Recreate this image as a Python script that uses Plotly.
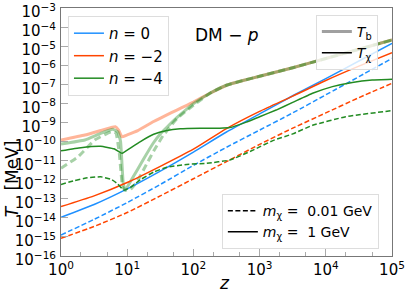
import plotly.graph_objects as go

# ---- data (log10 z, log10 T[MeV]) ----
lz_main = [0, 0.5, 1.0, 1.5, 2.0, 2.5, 3.0, 3.5, 4.0, 4.5, 5.0]

blue_solid = [-13.97, -13.3, -12.48, -11.55, -10.55, -9.5, -8.55, -7.6, -6.7, -5.78, -4.85]
orange_solid = [-13.41, -12.85, -12.15, -11.3, -10.4, -9.32, -8.42, -7.62, -6.8, -6.05, -5.34]
blue_dashed = [-14.9, -14.08, -13.2, -12.25, -11.25, -10.3, -9.4, -8.5, -7.55, -6.6, -5.64]
orange_dashed = [-15.07, -14.45, -13.72, -12.85, -11.95, -11.05, -10.15, -9.3, -8.5, -7.7, -6.95]

lz_green_solid = [0, 0.3, 0.6, 0.8, 0.92, 1.0, 1.2, 1.4, 1.6, 1.8, 2.1, 2.4, 2.55, 2.8, 3.0, 3.25,
                  3.5, 3.8, 4.1, 4.4, 4.7, 5.0]
green_solid = [-10.48, -10.32, -10.25, -10.38, -10.62, -10.45, -10.0, -9.62, -9.42, -9.33, -9.3, -9.3,
               -9.27, -8.98, -8.7, -8.35, -7.95, -7.47, -7.12, -6.9, -6.78, -6.74]

lz_green_dashed = [0, 0.2, 0.4, 0.6, 0.75, 0.85, 0.95, 1.05, 1.2, 1.4, 1.6, 1.9, 2.2, 2.55, 2.9, 3.2,
                   3.5, 3.8, 4.3, 5.0]
green_dashed = [-12.25, -12.05, -11.9, -11.85, -11.97, -12.2, -12.55, -12.4, -12.0, -11.6, -11.35,
                -11.2, -11.14, -10.97, -10.45, -9.95, -9.6, -9.15, -8.7, -8.38]

# baryon temperatures
lz_tb_common = [2.25, 2.5, 2.75, 3.0, 3.5, 4.0, 4.5, 5.0]
tb_common = [-7.47, -7.05, -6.8, -6.58, -6.13, -5.65, -5.16, -4.68]

lz_tb_n2 = [0, 0.36, 0.6, 0.75, 0.82, 0.87, 0.92, 1.0, 1.16, 1.4, 1.57, 1.75, 1.9, 2.0]
tb_n2 = [-9.92, -9.66, -9.42, -9.27, -9.22, -9.4, -9.75, -9.65, -9.43, -8.95, -8.65, -8.35, -8.1, -7.93]

lz_tb_n4_heavy = [0, 0.36, 0.6, 0.785, 0.86, 0.9, 0.94, 0.97, 1.05, 1.15, 1.25, 1.4, 1.5, 1.6, 1.75,
                  1.9, 2.0]
tb_n4_heavy = [-10.13, -9.92, -9.57, -9.36, -9.5, -10.0, -12.2, -12.55, -12.1, -11.5, -10.9, -10.05,
               -9.6, -9.25, -8.75, -8.3, -8.02]

lz_tb_n4_light = [0, 0.26, 0.51, 0.76, 0.83, 0.88, 0.93, 0.97, 1.05, 1.15, 1.29, 1.4, 1.54, 1.75, 2.0]
tb_n4_light = [-11.4, -10.79, -9.92, -9.48, -9.55, -10.6, -12.37, -12.55, -12.5, -12.1, -11.2, -10.5,
               -9.7, -8.8, -8.1]

x_tick_exp = [0, 1, 2, 3, 4, 5]
y_tick_exp = [-16, -15, -14, -13, -12, -11, -10, -9, -8, -7, -6, -5, -4, -3]

BLUE = "#1E90FF"
ORANGE = "#FF4500"
GREEN = "#228B22"
LIGHT_ORANGE = "rgba(255,69,0,0.4)"
LIGHT_GREEN = "rgba(34,139,34,0.4)"


def pw(v):
    return [10 ** a for a in v]


def lab(e):
    s = str(e).replace("-", "−")
    return f"10<sup>{s}</sup>"


fig = go.Figure()


def add(lz, lt, color, width, dash="solid", smoothing=0.6):
    fig.add_trace(go.Scatter(x=pw(lz), y=pw(lt), mode="lines",
                             line=dict(color=color, width=width, dash=dash, shape="spline",
                                       smoothing=smoothing),
                             showlegend=False, hoverinfo="skip"))


DASH = "5px,2.5px"
# light Tb lines
add(lz_tb_n2 + lz_tb_common, tb_n2 + tb_common, LIGHT_ORANGE, 3, smoothing=0.4)
add(lz_tb_n4_heavy + lz_tb_common, tb_n4_heavy + tb_common, LIGHT_GREEN, 3, smoothing=0.3)
add(lz_tb_n4_light + lz_tb_common, tb_n4_light + tb_common, LIGHT_GREEN, 3, dash="7px,4px", smoothing=0.3)

# T_chi lines
add(lz_main, blue_solid, BLUE, 1.5)
add(lz_main, blue_dashed, BLUE, 1.5, DASH)
add(lz_main, orange_solid, ORANGE, 1.5)
add(lz_main, orange_dashed, ORANGE, 1.5, DASH)
add(lz_green_solid, green_solid, GREEN, 1.5, smoothing=0.3)
add(lz_green_dashed, green_dashed, GREEN, 1.5, DASH, smoothing=0.4)


def leg(name, color, width, legend, dash="solid"):
    fig.add_trace(go.Scatter(x=[None], y=[None], mode="lines", name=name,
                             line=dict(color=color, width=width, dash=dash), legend=legend))


leg("<i>n</i> = 0", BLUE, 1.5, "legend")
leg("<i>n</i> = −2", ORANGE, 1.5, "legend")
leg("<i>n</i> = −4", GREEN, 1.5, "legend")
leg("<i>T</i><sub>b</sub>", "rgba(128,128,128,0.75)", 3, "legend2")
leg("<i>T</i><sub>χ</sub>", "black", 1.5, "legend2")
leg("<i>m</i><sub>χ</sub> =  0.01 GeV", "black", 1.5, "legend3", DASH)
leg("<i>m</i><sub>χ</sub> =  1 GeV", "black", 1.5, "legend3")

FONT = "DejaVu Sans"


def legstyle(size):
    return dict(bgcolor="rgba(255,255,255,0.8)", bordercolor="#dddddd", borderwidth=1,
                font=dict(family=FONT, size=size, color="black"), tracegroupgap=0, itemwidth=30)


axis_common = dict(type="log", ticks="inside", ticklen=7, tickcolor="#aaaaaa", tickwidth=1,
                   showline=True, linecolor="#777777", linewidth=1, mirror=True,
                   showgrid=False, zeroline=False, automargin=False, ticklabeloverflow="allow",
                   tickfont=dict(family=FONT, size=15, color="black"),
                   minor=dict(ticks="inside", ticklen=4, tickcolor="#aaaaaa", showgrid=False))

fig.update_layout(
    width=407, height=295,
    margin=dict(l=61, r=15, t=8, b=39),
    plot_bgcolor="white", paper_bgcolor="white",
    font=dict(family=FONT, color="black"),
    xaxis=dict(range=[0, 5], tickvals=pw(x_tick_exp), ticktext=[lab(e) for e in x_tick_exp],
               **axis_common),
    yaxis=dict(range=[-16, -3], tickvals=pw(y_tick_exp), ticktext=[lab(e) for e in y_tick_exp],
               ticklabelstandoff=1, ticklabelshift=4, **axis_common),
    legend=dict(x=0.021, y=0.968, xanchor="left", yanchor="top", **legstyle(15)),
    legend2=dict(x=0.77, y=0.972, xanchor="left", yanchor="top", **legstyle(14)),
    legend3=dict(x=0.486, y=0.028, xanchor="left", yanchor="bottom", **legstyle(14)),
    annotations=[
        dict(text="DM − <i>p</i>", x=0.5, y=0.89, xref="paper", yref="paper",
             xanchor="center", yanchor="middle",
             showarrow=False, font=dict(family=FONT, size=17)),
        dict(text="<i>z</i>", x=0.495, y=-0.11, xref="paper", yref="paper",
             xanchor="center", yanchor="middle",
             showarrow=False, font=dict(family=FONT, size=17)),
        dict(text="<i>T</i>   [MeV]", x=-0.148, y=0.31, xref="paper", yref="paper",
             xanchor="center", yanchor="middle",
             showarrow=False, textangle=-90, font=dict(family=FONT, size=17)),
    ],
)

fig.write_html("out.html", post_script="document.body.style.margin='0';",
               config={"displayModeBar": False})
